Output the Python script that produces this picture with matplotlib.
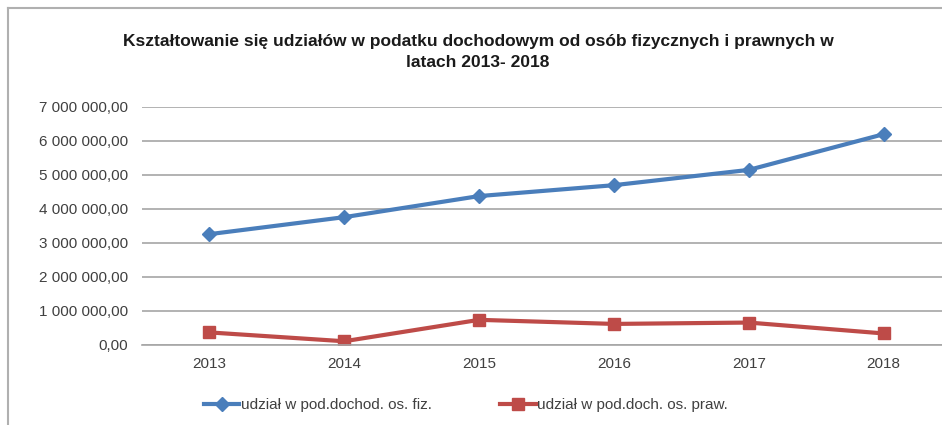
import matplotlib
matplotlib.use('Agg')
import matplotlib.pyplot as plt
from matplotlib.ticker import FuncFormatter
from matplotlib.lines import Line2D

years = ['2013', '2014', '2015', '2016', '2017', '2018']
fiz = [3260000, 3760000, 4380000, 4700000, 5150000, 6200000]
praw = [370000, 110000, 740000, 620000, 660000, 340000]
label_fiz = 'udział w pod.dochod. os. fiz.'
label_praw = 'udział w pod.doch. os. praw.'
title = 'Kształtowanie się udziałów w podatku dochodowym od osób fizycznych i prawnych w\nlatach 2013- 2018'

plt.rcParams['font.family'] = ['Liberation Sans', 'DejaVu Sans']

fig = plt.figure(figsize=(9.42, 4.25), dpi=100)

# chart border (left + top only, rest is cropped)
fig.add_artist(Line2D([8/942, 8/942], [0, 1 - 8/425], color='#b0b0b0', lw=1.5))
fig.add_artist(Line2D([8/942, 1], [1 - 8/425, 1 - 8/425], color='#b0b0b0', lw=1.5))

ax = fig.add_axes([142/942, 1 - 345/425, (951 - 142)/942, (345 - 107)/425])
x = list(range(len(years)))
ax.plot(x, fiz, color='#4a7ebb', lw=3, marker='D', ms=7, label=label_fiz)
ax.plot(x, praw, color='#be4b48', lw=3, marker='s', ms=8, label=label_praw)

ax.set_xlim(-0.5, 5.5)
ax.set_ylim(0, 7000000)
ax.set_yticks(range(0, 7000001, 1000000))
ax.yaxis.set_major_formatter(FuncFormatter(
    lambda v, p: '{:,.2f}'.format(v).replace(',', ' ').replace('.', ',')))
ax.set_xticks(x)
ax.set_xticklabels(years)
ax.grid(axis='y', color='#a6a6a6', lw=1.2)
ax.set_axisbelow(True)
for s in ['top', 'right', 'left']:
    ax.spines[s].set_visible(False)
ax.spines['bottom'].set_color('#a6a6a6')
ax.spines['bottom'].set_linewidth(1.2)
ax.tick_params(axis='both', length=0, colors='#404040', labelsize=11)
ax.tick_params(axis='y', pad=10)
ax.tick_params(axis='x', pad=9)

fig.text(478/942, 1 - 52/425, title, ha='center', va='center', fontsize=12.5,
         fontweight='bold', color='#1a1a1a', linespacing=1.45)

fig.legend(loc='center', bbox_to_anchor=(466/942, 1 - 405/425), ncol=2, frameon=False,
           fontsize=11, handlelength=2.3, columnspacing=4.5, handletextpad=0.1,
           labelcolor='#404040')

fig.savefig('out.png', dpi=100)
